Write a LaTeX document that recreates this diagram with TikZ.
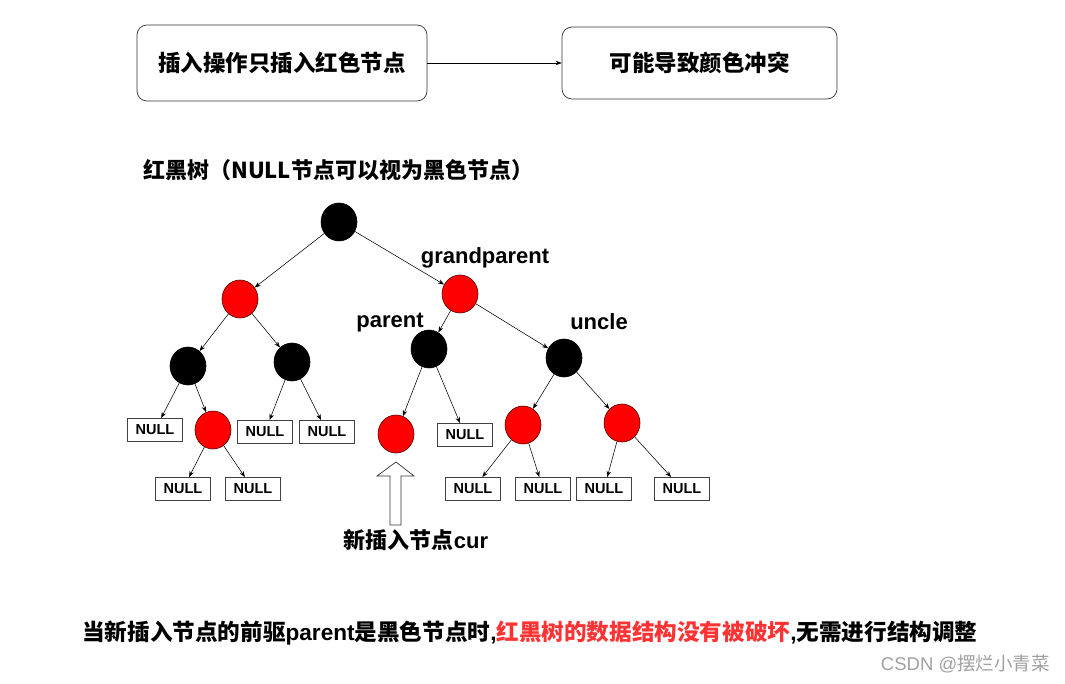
\documentclass[tikz,border=0pt]{standalone}
\usepackage{fontspec}
\setmainfont{Liberation Sans}
\newfontfamily\cjk{Noto Sans CJK SC}
\usetikzlibrary{shapes.geometric,arrows.meta}
\definecolor{hlred}{RGB}{255,51,51}
\definecolor{wmgray}{RGB}{160,160,160}
\tikzset{
  rbnode/.style={ellipse,minimum width=36pt,minimum height=38pt,inner sep=0pt,draw=black,line width=0.6pt},
  rednode/.style={rbnode,fill=red,draw=black!70!red},
  blacknode/.style={rbnode,fill=black},
  nullbox/.style={draw=black!75,line width=0.9pt,minimum width=55pt,minimum height=23pt,inner sep=0pt,font=\fontsize{14.5pt}{16pt}\selectfont\bfseries},
  topbox/.style={draw=black!80,line width=0.7pt,rounded corners=10pt,inner sep=0pt,font=\fontsize{22.5pt}{26pt}\selectfont\bfseries\cjk},
  lbl/.style={font=\fontsize{22pt}{26pt}\selectfont\bfseries,inner sep=0pt},
  edge/.style={-{Stealth[length=6pt,width=4.5pt]},line width=0.55pt,black},
}
\newcommand{\lat}{\normalfont\bfseries}
\begin{document}
\begin{tikzpicture}[x=1pt,y=-1pt]
\useasboundingbox (0,0) rectangle (1065,684);
% top boxes
\node[topbox,minimum width=290pt,minimum height=76pt] (b1) at (282,63) {插入操作只插入红色节点};
\node[topbox,minimum width=275pt,minimum height=72pt] (b2) at (699.5,63) {可能导致颜色冲突};
\draw[edge] (b1) -- (b2);
% title
\node[lbl,anchor=west,font=\fontsize{22pt}{26pt}\selectfont\bfseries\cjk] (title) at (143,170) {红黑树（NULL节点可以视为黑色节点）};
% tree nodes
\node[blacknode] (root) at (339,222) {};
\node[rednode] (rl) at (240,299) {};
\node[rednode] (gp) at (460,294) {};
\node[blacknode] (ll) at (188,366) {};
\node[blacknode] (lr) at (292,362) {};
\node[blacknode] (pa) at (429,349) {};
\node[blacknode] (un) at (564,358) {};
\node[nullbox] (n1) at (155,430) {NULL};
\node[rednode] (llr) at (213,430) {};
\node[nullbox] (n2) at (265,432) {NULL};
\node[nullbox] (n3) at (327,432) {NULL};
\node[rednode] (cur) at (396,434) {};
\node[nullbox] (n4) at (465,435) {NULL};
\node[rednode] (ul) at (523,425) {};
\node[rednode] (ur) at (622,423) {};
\node[nullbox] (n5) at (183,489) {NULL};
\node[nullbox] (n6) at (253,489) {NULL};
\node[nullbox] (n7) at (473,489) {NULL};
\node[nullbox] (n8) at (543,489) {NULL};
\node[nullbox] (n9) at (604,489) {NULL};
\node[nullbox] (n10) at (682,489) {NULL};
% edges
\draw[edge] (root) -- (rl);
\draw[edge] (root) -- (gp);
\draw[edge] (rl) -- (ll);
\draw[edge] (rl) -- (lr);
\draw[edge] (gp) -- (pa);
\draw[edge] (gp) -- (un);
\draw[edge] (ll) -- (n1);
\draw[edge] (ll) -- (llr);
\draw[edge] (lr) -- (n2);
\draw[edge] (lr) -- (n3);
\draw[edge] (pa) -- (cur);
\draw[edge] (pa) -- (n4);
\draw[edge] (un) -- (ul);
\draw[edge] (un) -- (ur);
\draw[edge] (llr) -- (n5);
\draw[edge] (llr) -- (n6);
\draw[edge] (ul) -- (n7);
\draw[edge] (ul) -- (n8);
\draw[edge] (ur) -- (n9);
\draw[edge] (ur) -- (n10);
% labels
\node[lbl] (lgp) at (485,258) {grandparent};
\node[lbl] (lpa) at (390,323) {parent};
\node[lbl] (lun) at (599,322) {uncle};
% hollow arrow
\coordinate (tip) at (396,462);
\draw[line width=0.7pt,draw=black!80,fill=white] (390,525) -- (390,476) -- (377,476) -- (tip) -- (414,476) -- (401,476) -- (401,525) -- cycle;
\node[lbl] (lcur) at (416,540) {\cjk 新插入节点\lat cur};
% bottom text
\node[lbl,anchor=west,font=\fontsize{22.6pt}{26pt}\selectfont\bfseries] (bottom) at (82,633) {\cjk 当新插入节点的前驱\lat parent\cjk 是黑色节点时\lat ,\textcolor{hlred}{\cjk 红黑树的数据结构没有被破坏}\lat ,\cjk 无需进行结构调整};
% watermark
\node[anchor=east,inner sep=0pt,text=wmgray,font=\fontsize{18.5pt}{20pt}\selectfont] (wm) at (1050,664) {CSDN @\cjk 摆烂小青菜};
\end{tikzpicture}
\end{document}
